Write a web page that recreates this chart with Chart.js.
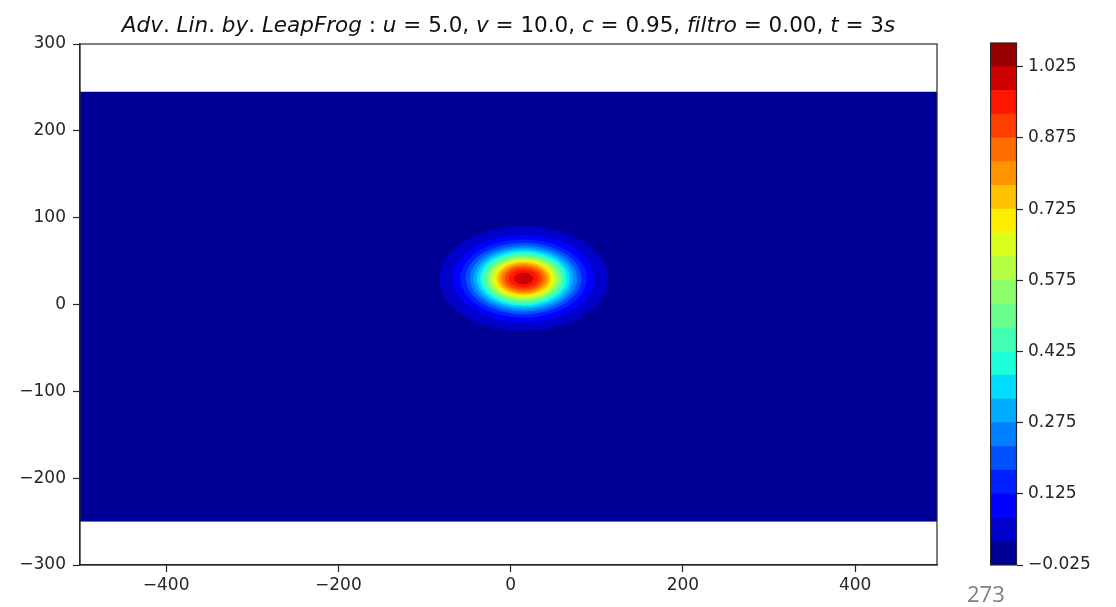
<!DOCTYPE html>
<html>
<head>
<meta charset="utf-8">
<script src="https://cdn.jsdelivr.net/npm/chart.js@4.4.1/dist/chart.umd.min.js"></script>
<style>
    body { margin: 0; background: #fff; width: 1116px; height: 607px; position: relative; overflow: hidden; }
    #field { position: absolute; left: 0; top: 0; }
    #colorbar { position: absolute; left: 990px; top: 0; }
    #page-num { position: absolute; left: 967px; top: 578px; font: 22px "Open Sans"; color: #7f7f7f; }
</style>
</head>
<body>
<canvas id="field" width="960" height="607"></canvas>
<canvas id="colorbar" width="126" height="607"></canvas>
<div id="page-num">273</div>
<script>
const titleText = "Adv. Lin. by. LeapFrog : u = 5.0, v = 10.0, c = 0.95, filtro = 0.00, t = 3s";

// domain of the grid and axis ticks
const gridX = [-500, 495];
const gridY = [-250, 245];
const xTicks = [-400, -200, 0, 200, 400];
const yTicks = [-300, -200, -100, 0, 100, 200, 300];

// pulse centre and the half-widths of each filled contour (lower level of the band)
const pulseCenter = [15, 30];
const levels  = [0.025, 0.075, 0.125, 0.175, 0.225, 0.275, 0.325, 0.375, 0.425, 0.475,
                 0.525, 0.575, 0.625, 0.675, 0.725, 0.775, 0.825, 0.875, 0.925, 0.975];
const radiusX = [97.8, 81.9, 73.4, 67.2, 62.2, 57.9, 54.0, 50.4, 47.3, 44.3,
                 41.5, 38.8, 36.0, 33.5, 31.0, 28.0, 25.0, 21.5, 17.0, 11.0];
const radiusY = [59.8, 50.1, 44.9, 41.1, 38.0, 35.4, 33.0, 30.8, 28.9, 27.0,
                 25.3, 23.7, 22.0, 20.4, 18.9, 17.1, 15.3, 13.1, 10.4, 6.8];

// colorbar level boundaries and ticks
const cbLevels = [-0.025, 0.025, 0.075, 0.125, 0.175, 0.225, 0.275, 0.325, 0.375, 0.425, 0.475, 0.525,
                  0.575, 0.625, 0.675, 0.725, 0.775, 0.825, 0.875, 0.925, 0.975, 1.025, 1.075];
const cbTicks = [-0.025, 0.125, 0.275, 0.425, 0.575, 0.725, 0.875, 1.025];

// jet colormap segments
const jetR = [[0, 0], [0.35, 0], [0.66, 1], [0.89, 1], [1, 0.5]];
const jetG = [[0, 0], [0.125, 0], [0.375, 1], [0.64, 1], [0.91, 0], [1, 0]];
const jetB = [[0, 0.5], [0.11, 1], [0.34, 1], [0.65, 0], [1, 0]];

function seg(points, t) {
    for (let i = 0; i < points.length - 1; i++) {
        const [x0, y0] = points[i], [x1, y1] = points[i + 1];
        if (t <= x1) return y0 + (y1 - y0) * (t - x0) / (x1 - x0);
    }
    return points[points.length - 1][1];
}

function jet(t) {
    const q = Math.min(255, Math.floor(t * 256)) / 255;
    const c = [jetR, jetG, jetB].map(p => Math.round(seg(p, q) * 255));
    return `rgb(${c[0]},${c[1]},${c[2]})`;
}

function bandColor(k) {
    return jet((k + 0.5) / (cbLevels.length - 1));
}

function bandIndex(level) {
    return cbLevels.findIndex(v => Math.abs(v - level) < 1e-9);
}

const fmt = v => v < 0 ? "\u2212" + Math.abs(v) : String(v);
const tickFont = { family: "DejaVu Sans", size: 17 };
const ink = "#262626";

const contourPlugin = {
    id: "contourf",
    beforeDatasetsDraw(chart) {
        const { ctx, chartArea, scales: { x, y } } = chart;
        ctx.save();
        ctx.beginPath();
        ctx.rect(chartArea.left, chartArea.top, chartArea.width, chartArea.height);
        ctx.clip();

        const x0 = x.getPixelForValue(gridX[0]), x1 = x.getPixelForValue(gridX[1]);
        const y0 = y.getPixelForValue(gridY[1]), y1 = y.getPixelForValue(gridY[0]);
        ctx.fillStyle = bandColor(0);
        ctx.fillRect(x0, y0, x1 - x0, y1 - y0);

        const cx = x.getPixelForValue(pulseCenter[0]);
        const cy = y.getPixelForValue(pulseCenter[1]);
        levels.forEach((lev, i) => {
            const rx = Math.abs(x.getPixelForValue(pulseCenter[0] + radiusX[i]) - cx);
            const ry = Math.abs(y.getPixelForValue(pulseCenter[1] + radiusY[i]) - cy);
            ctx.beginPath();
            ctx.ellipse(cx, cy, rx, ry, 0, 0, 2 * Math.PI);
            ctx.fillStyle = bandColor(bandIndex(lev));
            ctx.fill();
        });
        ctx.restore();
    },
    afterDraw(chart) {
        const { ctx, chartArea } = chart;
        ctx.save();
        ctx.strokeStyle = ink;
        ctx.lineWidth = 1.2;
        ctx.strokeRect(chartArea.left, chartArea.top, chartArea.width, chartArea.height);

        // mathtext style title: letters oblique, the rest upright
        const size = 21.5;
        const upright = `${size}px "DejaVu Sans"`;
        const oblique = `oblique ${size}px "DejaVu Sans"`;
        const parts = [];
        let total = 0;
        for (const ch of titleText) {
            ctx.font = /[A-Za-z]/.test(ch) ? oblique : upright;
            const w = ctx.measureText(ch).width;
            parts.push([ch, ctx.font, w]);
            total += w;
        }
        let px = (chartArea.left + chartArea.right) / 2 - total / 2;
        ctx.fillStyle = "#111";
        ctx.textBaseline = "alphabetic";
        parts.forEach(([ch, font, w]) => {
            ctx.font = font;
            ctx.fillText(ch, px, 32);
            px += w;
        });
        ctx.restore();
    }
};

new Chart(document.getElementById("field"), {
    type: "scatter",
    data: { datasets: [] },
    options: {
        responsive: false,
        animation: false,
        layout: { padding: { left: 0, top: 44, right: 23, bottom: 0 } },
        plugins: { legend: { display: false }, tooltip: { enabled: false } },
        scales: {
            x: {
                type: "linear", min: gridX[0], max: gridX[1],
                afterBuildTicks: a => { a.ticks = xTicks.map(v => ({ value: v })); },
                afterFit: a => { a.height = 42; },
                border: { display: true, color: ink, width: 1.2 },
                grid: { drawOnChartArea: false, drawTicks: true, tickLength: 7, tickWidth: 1.2, tickColor: ink },
                ticks: { font: tickFont, color: ink, padding: 3, maxRotation: 0, callback: fmt }
            },
            y: {
                type: "linear", min: -300, max: 300,
                afterBuildTicks: a => { a.ticks = yTicks.map(v => ({ value: v })); },
                afterFit: a => { a.width = 80; },
                border: { display: true, color: ink, width: 1.2 },
                grid: { drawOnChartArea: false, drawTicks: true, tickLength: 7, tickWidth: 1.2, tickColor: ink },
                ticks: { font: tickFont, color: ink, padding: 7, callback: fmt }
            }
        }
    },
    plugins: [contourPlugin]
});

const cbOutline = {
    id: "cbOutline",
    afterDraw(chart) {
        const { ctx, chartArea } = chart;
        ctx.save();
        ctx.strokeStyle = ink;
        ctx.lineWidth = 1.2;
        ctx.strokeRect(chartArea.left + 0.5, chartArea.top, chartArea.width - 1, chartArea.height);
        ctx.restore();
    }
};

new Chart(document.getElementById("colorbar"), {
    type: "bar",
    data: {
        labels: [""],
        datasets: cbLevels.slice(0, -1).map((lo, k) => ({
            data: [[lo, cbLevels[k + 1]]],
            backgroundColor: bandColor(k),
            borderWidth: 0,
            grouped: false,
            barPercentage: 1,
            categoryPercentage: 1
        }))
    },
    options: {
        responsive: false,
        animation: false,
        layout: { padding: { left: 0, top: 43, right: 0, bottom: 42 } },
        plugins: { legend: { display: false }, tooltip: { enabled: false } },
        scales: {
            x: { stacked: true, display: false },
            y: {
                position: "right", min: cbLevels[0], max: cbLevels[cbLevels.length - 1],
                afterBuildTicks: a => { a.ticks = cbTicks.map(v => ({ value: v })); },
                afterFit: a => { a.width = 99; },
                border: { display: false },
                grid: { drawOnChartArea: false, drawTicks: true, tickLength: 6, tickWidth: 1.2, tickColor: ink },
                ticks: { font: tickFont, color: ink, padding: 5, callback: v => fmt(v.toFixed(3)) }
            }
        }
    },
    plugins: [cbOutline]
});
</script>
</body>
</html>
